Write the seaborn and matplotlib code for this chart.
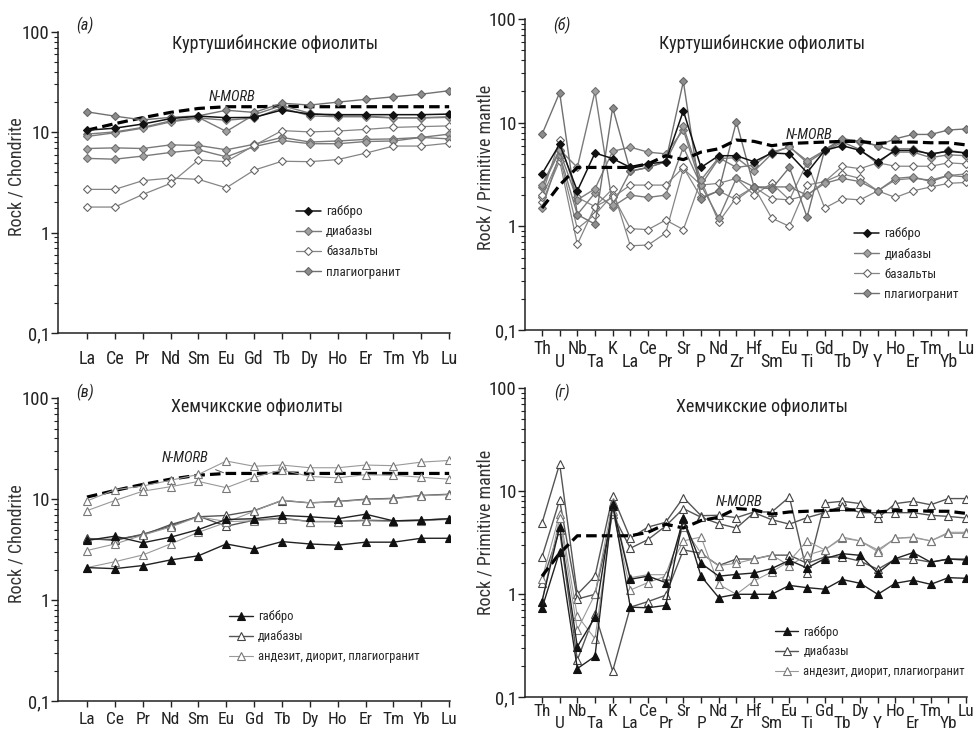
import numpy as np
import pandas as pd
import matplotlib
matplotlib.use("Agg")
import matplotlib.pyplot as plt
from matplotlib import font_manager
import seaborn as sns

sns.set_style("ticks")

_names = {f.name for f in font_manager.fontManager.ttflist}
_cands = ['Liberation Sans Narrow', 'Arial Narrow', 'Roboto Condensed',
          'Open Sans Condensed', 'DejaVu Sans Condensed', 'Noto Sans Condensed']
_found = [c for c in _cands if c in _names]
_cond_stretch = [f for f in font_manager.fontManager.ttflist
                 if f.name in ('Liberation Sans', 'DejaVu Sans', 'Noto Sans', 'Roboto', 'Open Sans')
                 and str(f.stretch) in ('condensed', 'semi-condensed', 'extra-condensed', '75', '87.5')]
CONDENSED = bool(_found or _cond_stretch)
if _found:
    plt.rcParams['font.family'] = [_found[0], 'Liberation Sans', 'DejaVu Sans']
elif _cond_stretch:
    plt.rcParams['font.family'] = [_cond_stretch[0].name, 'DejaVu Sans']
    plt.rcParams['font.stretch'] = 'condensed'
else:
    plt.rcParams['font.family'] = ['Liberation Sans', 'DejaVu Sans']

# ---------------- data ----------------
ree = ['La', 'Ce', 'Pr', 'Nd', 'Sm', 'Eu', 'Gd', 'Tb', 'Dy', 'Ho', 'Er', 'Tm', 'Yb', 'Lu']
spider = ['Th', 'U', 'Nb', 'Ta', 'K', 'La', 'Ce', 'Pr', 'Sr', 'P', 'Nd', 'Zr', 'Hf', 'Sm',
          'Eu', 'Ti', 'Gd', 'Tb', 'Dy', 'Y', 'Ho', 'Er', 'Tm', 'Yb', 'Lu']

nmorb_ch = [10.5, 12.2, 14.0, 15.8, 17.3, 18.0, 18.0, 18.2, 18.0, 18.0, 18.0, 18.0, 18.0, 18.0]
nmorb_pm = [1.5, 2.5, 3.7, 3.7, 3.7, 3.7, 4.0, 4.8, 4.4, 5.2, 5.6, 6.8, 6.6, 6.0, 6.3, 6.4,
            6.5, 6.6, 6.6, 6.3, 6.5, 6.5, 6.4, 6.4, 6.1]

# (а) Куртушибинские, chondrite
a_gabbro = [10.5, 11.0, 12.1, 13.7, 14.5, 14.0, 14.1, 16.7, 15.2, 15.0, 15.0, 15.0, 15.0, 15.2]
a_plag = [16.0, 14.5, 13.3, 14.1, 14.6, 16.6, 15.8, 19.5, 18.7, 20.0, 21.3, 22.6, 24.0, 26.0]
a_diab1 = [9.6, 10.1, 11.2, 13.0, 14.1, 10.2, 15.0, 18.5, 15.5, 14.5, 14.5, 14.0, 14.0, 14.3]
a_diab2 = [9.1, 9.9, 11.0, 12.7, 13.9, 13.2, 13.9, 17.5, 14.6, 14.3, 14.3, 13.9, 13.9, 14.1]
a_diab3 = [6.9, 7.0, 6.9, 7.5, 7.4, 6.7, 7.6, 8.9, 8.0, 8.2, 8.5, 8.6, 8.9, 9.6]
a_diab4 = [5.5, 5.4, 5.8, 6.3, 6.7, 5.7, 7.2, 8.3, 7.7, 7.7, 8.1, 8.2, 8.9, 8.6]
a_bas1 = [2.7, 2.7, 3.3, 3.5, 3.4, 2.8, 4.2, 5.15, 5.1, 5.35, 6.2, 7.3, 7.3, 7.8]
a_bas2 = [1.8, 1.8, 2.4, 3.1, 5.3, 5.1, 7.4, 10.4, 10.1, 10.3, 10.7, 11.2, 11.4, 11.6]

# (б) Куртушибинские, primitive mantle
b_gabbro = [3.2, 6.2, 2.2, 5.1, 4.5, 3.7, 4.0, 4.2, 13.0, 3.7, 4.8, 4.8, 4.2, 5.1, 5.0, 3.3,
            5.4, 6.0, 5.4, 4.2, 5.4, 5.4, 5.0, 5.3, 5.1]
b_plag = [7.7, 19.5, 1.3, 1.05, 14.0, 3.4, 3.7, 4.2, 25.0, 1.85, 2.2, 10.2, 2.4, 2.3, 3.7, 1.23,
          5.5, 7.0, 6.6, 6.0, 7.0, 7.7, 7.7, 8.5, 8.7]
b_diab1 = [2.5, 5.5, 3.7, 20.0, 1.6, 3.4, 3.7, 4.2, 9.2, 2.8, 4.6, 3.7, 3.9, 5.2, 5.8, 4.3,
           5.4, 6.8, 6.5, 6.0, 5.2, 5.2, 4.6, 4.9, 4.8]
b_diab2 = [2.4, 5.3, 1.8, 2.3, 5.3, 5.8, 5.2, 5.0, 8.5, 2.5, 4.5, 4.6, 3.4, 5.0, 5.9, 4.1,
           5.3, 6.5, 5.5, 4.0, 5.6, 5.6, 4.9, 5.4, 5.1]
b_diab3 = [1.5, 4.9, 1.3, 2.1, 1.55, 2.0, 1.9, 2.0, 5.8, 2.5, 1.2, 2.9, 2.4, 2.4, 2.4, 2.0,
           2.6, 2.9, 2.7, 2.2, 2.9, 3.0, 2.7, 3.1, 3.0]
b_bas1 = [1.7, 4.3, 0.67, 1.55, 2.3, 0.65, 0.66, 0.86, 3.6, 2.5, 2.6, 2.9, 2.0, 2.6, 1.8, 4.1,
          1.5, 1.85, 1.8, 2.2, 1.9, 2.2, 2.4, 2.6, 2.65]
b_bas2 = [1.9, 4.7, 0.95, 1.3, 2.0, 0.95, 0.93, 1.15, 0.93, 2.8, 1.1, 1.9, 2.4, 1.2, 1.0, 2.5,
          2.7, 3.2, 2.9, 2.2, 2.8, 2.9, 2.8, 3.1, 3.2]
b_bas3 = [2.0, 6.8, 1.9, 1.55, 1.9, 2.5, 2.5, 2.5, 3.7, 1.9, 2.2, 1.8, 2.4, 1.85, 1.8, 2.0,
          2.7, 3.8, 3.6, 4.1, 3.8, 3.8, 3.8, 4.1, 4.0]

# (в) Хемчикские, chondrite
c_gab1 = [2.1, 2.05, 2.2, 2.5, 2.75, 3.6, 3.2, 3.8, 3.6, 3.5, 3.75, 3.75, 4.1, 4.1]
c_gab2 = [3.9, 4.3, 3.7, 4.2, 5.0, 6.3, 6.4, 6.9, 6.7, 6.4, 7.1, 6.1, 6.2, 6.4]
c_diab1 = [4.0, 4.0, 4.4, 5.6, 6.7, 6.9, 7.7, 9.7, 9.2, 9.5, 10.0, 10.2, 10.9, 11.2]
c_diab2 = [4.1, 3.9, 4.5, 5.4, 6.8, 5.4, 6.2, 6.5, 6.0, 6.0, 6.2, 6.1, 6.2, 6.4]
c_diab3 = [3.1, 3.6, 4.4, 5.3, 6.7, 6.0, 6.1, 6.4, 6.0, 6.0, 6.1, 6.0, 6.1, 6.3]
c_diab4 = [2.1, 2.4, 2.8, 3.6, 4.7, 5.9, 7.6, 9.8, 9.2, 9.4, 9.9, 10.1, 10.8, 11.1]
c_and1 = [9.6, 12.4, 13.5, 15.4, 17.6, 23.9, 21.2, 21.8, 20.5, 20.5, 21.8, 21.5, 23.3, 24.2]
c_and2 = [7.7, 9.7, 12.0, 13.3, 15.0, 13.0, 16.5, 19.5, 16.8, 16.3, 17.5, 17.3, 16.5, 15.8]

# (г) Хемчикские, primitive mantle
d_gab1 = [0.73, 2.6, 0.19, 0.25, 7.5, 0.75, 0.74, 0.78, 5.5, 1.5, 0.93, 1.0, 1.0, 1.0, 1.22,
          1.16, 1.12, 1.39, 1.28, 1.0, 1.28, 1.37, 1.25, 1.45, 1.43]
d_gab2 = [0.85, 4.5, 0.31, 0.6, 7.2, 1.4, 1.5, 1.3, 5.4, 2.0, 1.5, 1.56, 1.61, 1.78, 2.14, 1.8,
          2.22, 2.48, 2.39, 1.61, 2.22, 2.54, 2.05, 2.2, 2.15]
d_dia1 = [4.9, 18.5, 1.0, 1.5, 9.0, 3.5, 4.5, 5.0, 8.7, 5.8, 5.85, 5.55, 6.3, 6.3, 8.8, 1.62,
          7.7, 8.0, 7.6, 5.5, 7.6, 8.0, 7.4, 8.5, 8.5]
d_dia2 = [2.3, 8.2, 0.9, 1.0, 6.0, 2.8, 3.4, 4.6, 6.8, 5.6, 4.85, 4.4, 6.2, 5.3, 4.8, 5.55,
          6.2, 7.2, 6.2, 6.2, 6.2, 6.2, 5.85, 5.7, 5.5]
d_dia3 = [1.3, 4.2, 0.23, 0.65, 0.18, 0.75, 0.85, 0.98, 2.7, 2.5, 1.9, 2.2, 2.2, 2.4, 2.4, 2.0,
          2.3, 2.3, 2.1, 1.75, 2.2, 2.2, 2.05, 2.2, 2.2]
d_and1 = [1.4, 6.0, 0.62, 0.37, 6.5, 1.1, 1.3, 1.5, 3.3, 3.6, 1.25, 1.0, 1.35, 1.65, 2.1, 3.3,
          2.7, 3.5, 3.3, 2.7, 3.5, 3.55, 3.3, 4.0, 4.0]
d_and2 = [0.85, 5.5, 0.45, 1.0, 7.8, 1.45, 1.55, 1.55, 4.5, 2.5, 1.9, 2.0, 2.2, 2.4, 1.9, 2.4,
          2.7, 3.6, 3.3, 2.6, 3.5, 3.6, 3.3, 3.9, 3.9]

lbl_gabbro = 'габбро'
lbl_diab = 'диабазы'
lbl_bas = 'базальты'
lbl_plag = 'плагиогранит'
lbl_and = 'андезит, диорит, плагиогранит'

# ---------------- styles ----------------
ST = {
    'gabbroD': dict(color='#111111', marker='D', markersize=4.3, markerfacecolor='#111111',
                    markeredgecolor='#111111', linewidth=1.1),
    'diabD': dict(color='#7a7a7a', marker='D', markersize=4.3, markerfacecolor='#a0a0a0',
                  markeredgecolor='#707070', linewidth=1.0),
    'basD': dict(color='#858585', marker='D', markersize=4.3, markerfacecolor='white',
                 markeredgecolor='#666666', linewidth=0.9),
    'plagD': dict(color='#707070', marker='D', markersize=4.3, markerfacecolor='#8c8c8c',
                  markeredgecolor='#666666', linewidth=1.0),
    'gabbroT': dict(color='#222222', marker='^', markersize=5.5, markerfacecolor='#111111',
                    markeredgecolor='#111111', linewidth=1.0),
    'diabT': dict(color='#555555', marker='^', markersize=5.8, markerfacecolor='white',
                  markeredgecolor='#444444', linewidth=1.0),
    'andT': dict(color='#999999', marker='^', markersize=5.8, markerfacecolor='white',
                 markeredgecolor='#777777', linewidth=0.8),
}

FS_TOP = 13.0 if CONDENSED else 11.0    # x tick label size, top row
FS_BOT = 12.5 if CONDENSED else 11.0    # x tick label size, bottom row
YFS = 13.5 if CONDENSED else 11.5       # y tick labels
TFS = 13.0 if CONDENSED else 11.5       # title size
LFS1 = 9.4 if CONDENSED else 8.5        # legend size (top row)
LFS2 = 9.0 if CONDENSED else 8.0        # legend size (bottom row)
YLFS = 13.0 if CONDENSED else 11.5      # y label size

fig = plt.figure(figsize=(9.77, 7.31), dpi=100)
W, H = 977.0, 731.0


def make_ax(left, right, top, bottom):
    return fig.add_axes([left / W, 1 - bottom / H, (right - left) / W, (bottom - top) / H])


axA = make_ax(58, 450, 32, 333)
axB = make_ax(525, 967, 19, 330)
axC = make_ax(58, 450, 398.3, 701)
axD = make_ax(525, 967, 388.3, 697.3)


def draw(ax, vals, style, label=None):
    x = np.arange(len(vals))
    kw = dict(ST[style])
    sns.lineplot(x=x, y=vals, ax=ax, estimator=None, sort=False, label=label,
                 markeredgewidth=0.8, legend=False, **kw)


def nmorb(ax, vals):
    x = np.arange(len(vals))
    sns.lineplot(x=x, y=vals, ax=ax, estimator=None, sort=False, color='black',
                 linewidth=2.3, legend=False)
    ax.lines[-1].set_dashes((3.3, 1.6))


def setup(ax, cats, xlim, ylabel, stagger, pads, fs):
    ax.set_yscale('log')
    ax.set_ylim(0.1, 100)
    ax.set_xlim(*xlim)
    ax.set_yticks([0.1, 1, 10, 100])
    ax.set_yticklabels(['0,1', '1', '10', '100'])
    ax.yaxis.set_minor_locator(matplotlib.ticker.LogLocator(base=10, subs=np.arange(2, 10)))
    ax.yaxis.set_minor_formatter(matplotlib.ticker.NullFormatter())
    ax.tick_params(axis='y', which='major', length=5, width=1, labelsize=YFS, pad=1,
                   colors='#222222')
    ax.tick_params(axis='y', which='minor', length=3, width=0.8, colors='#222222')
    idx = np.arange(len(cats))
    if stagger:
        ax.set_xticks(idx[::2])
        ax.set_xticklabels(cats[::2])
        ax.set_xticks(idx[1::2], minor=True)
        ax.set_xticklabels(cats[1::2], minor=True)
        ax.tick_params(axis='x', which='major', length=4, width=1, labelsize=fs, pad=pads[0],
                       colors='#222222')
        ax.tick_params(axis='x', which='minor', length=4, width=1, labelsize=fs, pad=pads[1],
                       colors='#222222')
    else:
        ax.set_xticks(idx)
        ax.set_xticklabels(cats)
        ax.tick_params(axis='x', which='major', length=4, width=1, labelsize=fs, pad=pads[0],
                       colors='#222222')
        ax.tick_params(axis='x', which='minor', length=0)
    for s in ['top', 'right']:
        ax.spines[s].set_visible(False)
    for s in ['left', 'bottom']:
        ax.spines[s].set_linewidth(1.1)
        ax.spines[s].set_color('#222222')
    ax.set_ylabel(ylabel, fontsize=YLFS, color='#333333')
    ax.set_xlabel('')


# ---------------- panel (а) ----------------
nmorb(axA, nmorb_ch)
draw(axA, a_diab3, 'diabD')
draw(axA, a_diab4, 'diabD')
draw(axA, a_bas1, 'basD', lbl_bas)
draw(axA, a_bas2, 'basD')
draw(axA, a_diab1, 'diabD', lbl_diab)
draw(axA, a_diab2, 'diabD')
draw(axA, a_plag, 'plagD', lbl_plag)
draw(axA, a_gabbro, 'gabbroD', lbl_gabbro)
setup(axA, ree, (-1.04, 13.03), 'Rock / Chondrite', False, (8.0,), FS_TOP)

# ---------------- panel (б) ----------------
draw(axB, b_bas1, 'basD', lbl_bas)
draw(axB, b_bas2, 'basD')
draw(axB, b_bas3, 'basD')
draw(axB, b_diab3, 'diabD')
draw(axB, b_diab2, 'diabD')
draw(axB, b_diab1, 'diabD', lbl_diab)
draw(axB, b_plag, 'plagD', lbl_plag)
nmorb(axB, nmorb_pm)
draw(axB, b_gabbro, 'gabbroD', lbl_gabbro)
setup(axB, spider, (-0.96, 24.05), 'Rock / Primitive mantle', True, (3.0, 12.5), FS_TOP)

# ---------------- panel (в) ----------------
nmorb(axC, nmorb_ch)
draw(axC, c_and1, 'andT', lbl_and)
draw(axC, c_and2, 'andT')
draw(axC, c_diab1, 'diabT', lbl_diab)
draw(axC, c_diab2, 'diabT')
draw(axC, c_diab3, 'andT')
draw(axC, c_diab4, 'andT')
draw(axC, c_gab2, 'gabbroT')
draw(axC, c_gab1, 'gabbroT', lbl_gabbro)
setup(axC, ree, (-1.04, 13.03), 'Rock / Chondrite', False, (4.0,), FS_BOT)

# ---------------- panel (г) ----------------
draw(axD, d_dia1, 'diabT', lbl_diab)
draw(axD, d_dia2, 'diabT')
draw(axD, d_dia3, 'diabT')
draw(axD, d_and1, 'andT', lbl_and)
draw(axD, d_and2, 'andT')
nmorb(axD, nmorb_pm)
draw(axD, d_gab2, 'gabbroT')
draw(axD, d_gab1, 'gabbroT', lbl_gabbro)
setup(axD, spider, (-0.96, 24.05), 'Rock / Primitive mantle', True, (0.5, 9.5), FS_BOT)

# ---------------- texts ----------------
axA.text(0.554, 0.96, 'Куртушибинские офиолиты', transform=axA.transAxes, ha='center',
         va='center', fontsize=TFS, color='#222222')
axB.text(0.536, 0.92, 'Куртушибинские офиолиты', transform=axB.transAxes, ha='center',
         va='center', fontsize=TFS, color='#222222')
axC.text(0.508, 0.971, 'Хемчикские офиолиты', transform=axC.transAxes, ha='center',
         va='center', fontsize=TFS, color='#222222')
axD.text(0.536, 0.94, 'Хемчикские офиолиты', transform=axD.transAxes, ha='center',
         va='center', fontsize=TFS, color='#222222')

for ax, lab, x, y in [(axA, '(a)', 0.069, 1.023), (axB, '(б)', 0.084, 0.981),
                      (axC, '(в)', 0.069, 1.021), (axD, '(г)', 0.084, 0.988)]:
    ax.text(x, y, lab, transform=ax.transAxes, ha='center', va='center',
            fontsize=11.5, style='italic', color='#222222')

nm_kw = dict(ha='center', va='center', fontsize=10.5, style='italic', color='#222222')
axA.text(5.2, 22.5, 'N-MORB', **nm_kw)
axB.text(15.1, 7.6, 'N-MORB', **nm_kw)
axD.text(11.15, 7.9, 'N-MORB', **nm_kw)
axC.annotate('N-MORB', xy=(4.9, 18.3), xytext=(3.52, 25.6), textcoords='data',
             arrowprops=dict(arrowstyle='-', color='#555555', lw=0.7, shrinkA=3, shrinkB=0),
             **nm_kw)

# y-label positions (anchor is the right edge of the rotated text)
axA.yaxis.set_label_coords(-0.083, 0.518)
axB.yaxis.set_label_coords(-0.068, 0.524)
axC.yaxis.set_label_coords(-0.083, 0.52)
axD.yaxis.set_label_coords(-0.068, 0.534)


def legend(ax, order, x, y, fs):
    h, l = ax.get_legend_handles_labels()
    d = dict(zip(l, h))
    hs = [d[k] for k in order]
    ax.legend(hs, order, loc='upper left', bbox_to_anchor=(x, y), frameon=False,
              fontsize=fs, handlelength=1.9, handletextpad=0.4, labelspacing=0.55,
              borderpad=0, borderaxespad=0)


legend(axA, [lbl_gabbro, lbl_diab, lbl_bas, lbl_plag], 0.607, 0.425, LFS1)
legend(axB, [lbl_gabbro, lbl_diab, lbl_bas, lbl_plag], 0.745, 0.33, LFS1)
legend(axC, [lbl_gabbro, lbl_diab, lbl_and], 0.437, 0.30, LFS2)
legend(axD, [lbl_gabbro, lbl_diab, lbl_and], 0.565, 0.232, LFS2)

fig.savefig('out.png', dpi=100, facecolor='white')
